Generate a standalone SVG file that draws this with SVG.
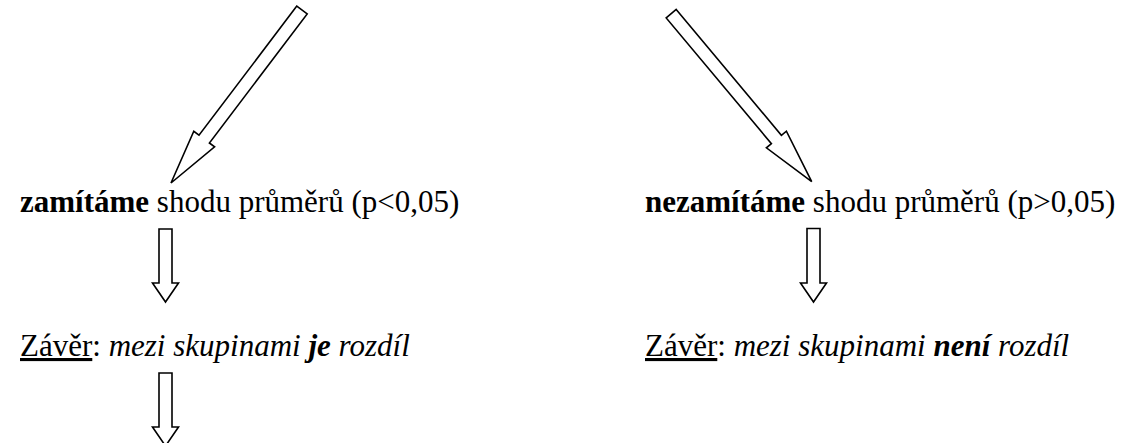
<svg xmlns="http://www.w3.org/2000/svg" width="1131" height="443" viewBox="0 0 1131 443">
<style>
.arrow{fill:#fff;stroke:#000;stroke-width:1.6;stroke-linejoin:miter}
.t{font-family:"Liberation Serif","Times New Roman",serif;font-size:31px;fill:#000}
.b{font-weight:bold}
.i{font-style:italic}
.u{text-decoration:underline}
</style>
<rect width="1131" height="443" fill="#fff"/>
<g id="connectors">
<polygon class="arrow" points="296.8,6.1 199,135.2 193.8,131.3 171,183 214.6,146.9 209.4,143 307.2,13.9"/>
<polygon class="arrow" points="676.2,9.5 781.4,135.3 786.4,131.2 811.7,181.7 766.4,147.8 771.4,143.7 666.2,17.9"/>
<polygon class="arrow" points="159,229 172,229 172,283 178.5,283 165.5,302 152.5,283 159,283"/>
<polygon class="arrow" points="807,228.5 820,228.5 820,283 826.5,283 813.5,302 800.5,283 807,283"/>
<polygon class="arrow" points="159,373 172,373 172,427 178.5,427 165.5,446 152.5,427 159,427"/>
</g>
<g id="reject">
<text class="t" x="20" y="212"><tspan class="b">zamítáme</tspan> shodu průměrů (p&lt;0,05)</text>
</g>
<g id="notreject">
<text class="t" x="645" y="212"><tspan class="b">nezamítáme</tspan> shodu průměrů (p&gt;0,05)</text>
</g>
<g id="conclusion-yes">
<text class="t" x="20" y="356"><tspan class="u">Závěr</tspan>: <tspan class="i">mezi skupinami </tspan><tspan class="i b">je</tspan><tspan class="i"> rozdíl</tspan></text>
</g>
<g id="conclusion-no">
<text class="t" x="645" y="356"><tspan class="u">Závěr</tspan>: <tspan class="i">mezi skupinami </tspan><tspan class="i b">není</tspan><tspan class="i"> rozdíl</tspan></text>
</g>
</svg>
